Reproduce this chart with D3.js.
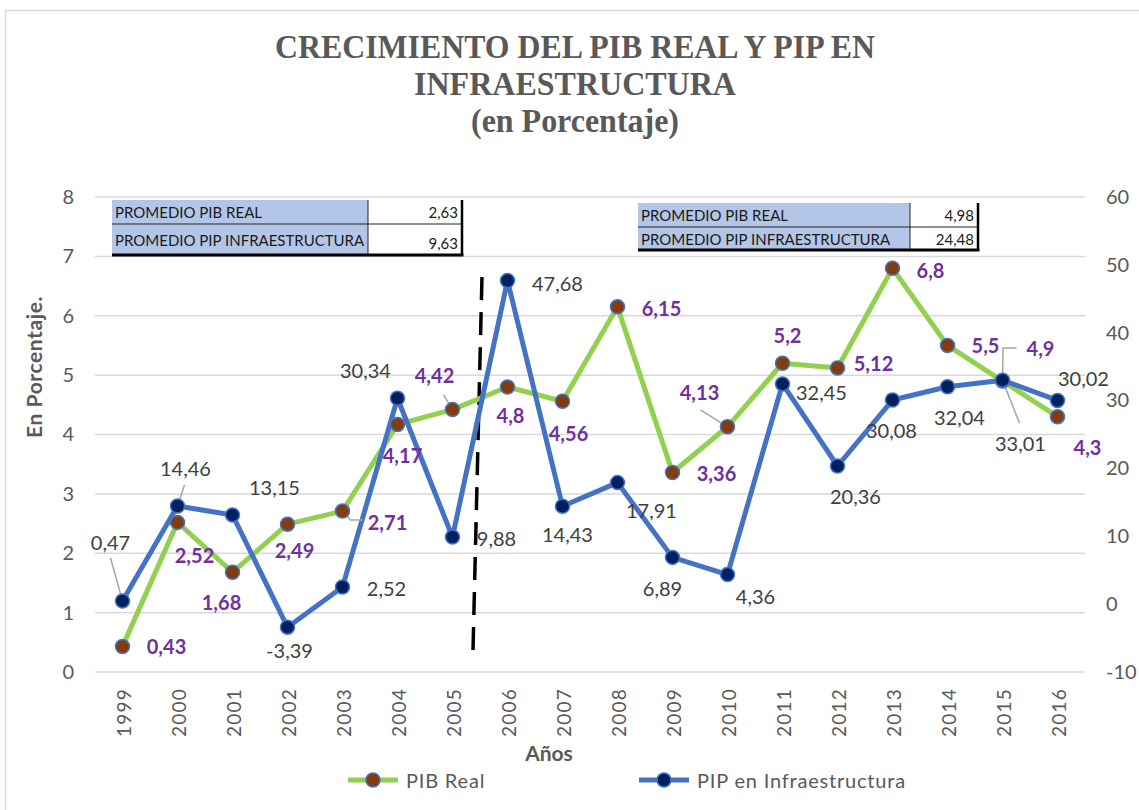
<!DOCTYPE html>
<html>
<head>
<meta charset="utf-8">
<script src="https://cdn.jsdelivr.net/npm/d3@7/dist/d3.min.js"></script>
<style>
  html, body { margin: 0; padding: 0; background: #ffffff; }
  svg { display: block; }
</style>
</head>
<body>
<svg id="chart" width="1139" height="810"></svg>
<script>
// ---------------- DATA ----------------
const years = ["1999","2000","2001","2002","2003","2004","2005","2006","2007","2008","2009","2010","2011","2012","2013","2014","2015","2016"];
const pibReal = [0.43,2.52,1.68,2.49,2.71,4.17,4.42,4.8,4.56,6.15,3.36,4.13,5.2,5.12,6.8,5.5,4.9,4.3];
const pipInfra = [0.47,14.46,13.15,-3.39,2.52,30.34,9.88,47.68,14.43,17.91,6.89,4.36,32.45,20.36,30.08,32.04,33.01,30.02];
const leftTicks = [0,1,2,3,4,5,6,7,8];
const rightTicks = [-10,0,10,20,30,40,50,60];
const tableLabels = ["PROMEDIO PIB REAL","PROMEDIO PIP INFRAESTRUCTURA"];
const table1Values = ["2,63","9,63"];
const table2Values = ["4,98","24,48"];
const titleLines = ["CRECIMIENTO DEL PIB REAL Y PIP EN","INFRAESTRUCTURA","(en Porcentaje)"];

// ---------------- LAYOUT (label placement, not data) ----------------
// [dx, dy] offsets of label centre from marker; optional leader polyline
const pibLabelPos = [
  [44,0],[17,33,[[12,11]]],[-11,30],[7,26],[45,11,[[8,9],[20,9]]],[5,31],[-18,-35,[[-9,-15]]],[3,28],[6,32],
  [44,1],[44,0],[-28,-35,[[-27,-17]]],[5,-28],[36,-5],[38,2],[38,0],[38,-33,[[0.5,-33],[14,-33]]],[30,30]
];
const pipLabelPos = [
  [-12,-59,[[-12,-43]]],[8,-38,[[7,-21]]],[42,-28],[2,23],[44,1],[-32,-28],[44,1],[50,2],[5,28],
  [34,27],[-10,31],[28,21],[39,8],[18,30],[-1,30],[12,30],[18,63,[[17,43]]],[26,-22]
];

const svg = d3.select("#chart");
const W = 1139, H = 810;
const plot = { left: 95, right: 1085, top: 197, bottom: 672 };

const sans = "Lato, 'Open Sans', sans-serif";
const gray = "#595959";

// border
svg.append("rect").attr("x", 5.5).attr("y", 10.5).attr("width", W + 20).attr("height", H + 20)
  .attr("fill", "#fff").attr("stroke", "#d9d9d9").attr("stroke-width", 1.5);

// scales
const x = d3.scaleBand().domain(years).range([plot.left, plot.right]).padding(0);
const cx = d => x(d) + x.bandwidth() / 2;
const yL = d3.scaleLinear().domain([0, 8]).range([plot.bottom, plot.top]);
const yR = d3.scaleLinear().domain([-10, 60]).range([plot.bottom, plot.top]);

// title
const titleBase = [58, 95, 132];
const titleLen = [600, 322, 208];
titleLines.forEach((t, i) => {
  svg.append("text").attr("x", 575).attr("y", titleBase[i])
    .attr("text-anchor", "middle")
    .attr("font-family", "'Liberation Serif', 'Times New Roman', serif")
    .attr("font-weight", "bold").attr("font-size", 34).attr("fill", gray)
    .attr("textLength", titleLen[i]).attr("lengthAdjust", "spacingAndGlyphs")
    .text(t);
});

// gridlines (primary axis)
svg.append("g").selectAll("line").data(leftTicks).join("line")
  .attr("x1", plot.left).attr("x2", plot.right)
  .attr("y1", d => yL(d)).attr("y2", d => yL(d))
  .attr("stroke", "#d9d9d9").attr("stroke-width", 1.5);

// left axis
const axL = svg.append("g").attr("transform", `translate(${plot.left},0)`)
  .call(d3.axisLeft(yL).tickValues(leftTicks).tickSize(0).tickPadding(21).tickFormat(d3.format("d")));
axL.select(".domain").remove();
axL.selectAll("text").attr("font-family", sans).attr("font-size", 20).attr("fill", gray);

// right axis
const axR = svg.append("g").attr("transform", `translate(${plot.right},0)`)
  .call(d3.axisRight(yR).tickValues(rightTicks).tickSize(0).tickPadding(21).tickFormat(d => d3.format("d")(d).replace("−","-")));
axR.select(".domain").remove();
axR.selectAll("text").attr("font-family", sans).attr("font-size", 20).attr("fill", gray);

// x axis labels (rotated)
const axX = svg.append("g").attr("transform", `translate(0,${plot.bottom})`)
  .call(d3.axisBottom(x).tickSize(0).tickPadding(0));
axX.select(".domain").remove();
axX.selectAll("text")
  .attr("font-family", sans).attr("font-size", 19).attr("fill", gray)
  .attr("letter-spacing", 1.2)
  .attr("text-anchor", "end")
  .attr("dy", null).attr("y", 0)
  .attr("transform", "translate(1,16) rotate(-90)")
  .attr("dominant-baseline", "central");

// axis titles
svg.append("text").attr("transform", `translate(33,367) rotate(-90)`)
  .attr("text-anchor", "middle").attr("dominant-baseline", "central")
  .attr("font-family", sans).attr("font-weight", "bold").attr("font-size", 21).attr("fill", gray)
  .attr("letter-spacing", 0.6)
  .text("En Porcentaje.");
svg.append("text").attr("x", 549).attr("y", 752)
  .attr("text-anchor", "middle").attr("dominant-baseline", "central")
  .attr("font-family", sans).attr("font-weight", "bold").attr("font-size", 21).attr("fill", gray)
  .text("Años");

// tables
function drawTable(x0, xDiv, x1, yTop, yMid, yBot, values, valDy) {
  const g = svg.append("g");
  g.append("rect").attr("x", x0).attr("y", yTop).attr("width", xDiv - x0).attr("height", yBot - yTop).attr("fill", "#b4c6e7");
  g.append("rect").attr("x", xDiv).attr("y", yTop).attr("width", x1 - xDiv).attr("height", yBot - yTop).attr("fill", "#ffffff");
  g.append("line").attr("x1", x0).attr("x2", x1).attr("y1", yMid).attr("y2", yMid).attr("stroke", "#222").attr("stroke-width", 1);
  g.append("line").attr("x1", xDiv).attr("x2", xDiv).attr("y1", yTop).attr("y2", yBot).attr("stroke", "#222").attr("stroke-width", 1);
  g.append("line").attr("x1", x0).attr("x2", x1 + 1.5).attr("y1", yBot).attr("y2", yBot).attr("stroke", "#000").attr("stroke-width", 3);
  g.append("line").attr("x1", x1).attr("x2", x1).attr("y1", yTop).attr("y2", yBot).attr("stroke", "#000").attr("stroke-width", 2.5);
  const rows = [[yTop, yMid], [yMid, yBot]];
  tableLabels.forEach((lab, i) => {
    const yc = (rows[i][0] + rows[i][1]) / 2;
    g.append("text").attr("x", x0 + 3).attr("y", yc).attr("dominant-baseline", "central")
      .attr("font-family", sans).attr("font-size", 15).attr("fill", "#1a1a1a").text(lab);
    g.append("text").attr("x", x1 - 4).attr("y", yc + valDy[i]).attr("dominant-baseline", "central")
      .attr("text-anchor", "end")
      .attr("font-family", sans).attr("font-size", 15).attr("fill", "#1a1a1a").text(values[i]);
  });
}
drawTable(112, 368, 462, 200, 224, 255, table1Values, [0, 3]);
drawTable(638, 910, 978, 203, 227, 250, table2Values, [0, 0]);

// dashed separator (between 2005 and 2006)
svg.append("line")
  .attr("x1", cx("2005") + 0.536 * x.step()).attr("y1", yL(6.65))
  .attr("x2", cx("2005") + 0.373 * x.step()).attr("y2", yL(0.37))
  .attr("stroke", "#000").attr("stroke-width", 3.5).attr("stroke-dasharray", "23,12");

// lines
const pibPts = years.map((yr, i) => [cx(yr), yL(pibReal[i])]);
const pipPts = years.map((yr, i) => [cx(yr), yR(pipInfra[i])]);
const lineGen = d3.line();
svg.append("path").attr("d", lineGen(pibPts)).attr("fill", "none")
  .attr("stroke", "#92d050").attr("stroke-width", 5).attr("stroke-linejoin", "round");
svg.append("path").attr("d", lineGen(pipPts)).attr("fill", "none")
  .attr("stroke", "#4472c4").attr("stroke-width", 5).attr("stroke-linejoin", "round");

// leader lines
function leaders(pts, pos) {
  pos.forEach((p, i) => {
    if (p[2]) {
      const path = [[pts[i][0], pts[i][1]]].concat(p[2].map(q => [pts[i][0] + q[0], pts[i][1] + q[1]]));
      svg.append("path").attr("d", d3.line()(path)).attr("fill", "none")
        .attr("stroke", "#a6a6a6").attr("stroke-width", 1.5);
    }
  });
}
leaders(pibPts, pibLabelPos);
leaders(pipPts, pipLabelPos);

// markers
svg.append("g").selectAll("circle").data(pibPts).join("circle")
  .attr("cx", d => d[0]).attr("cy", d => d[1]).attr("r", 7)
  .attr("fill", "#843c0c").attr("stroke", "#4472c4").attr("stroke-width", 1.5);
svg.append("g").selectAll("circle").data(pipPts).join("circle")
  .attr("cx", d => d[0]).attr("cy", d => d[1]).attr("r", 7)
  .attr("fill", "#002060").attr("stroke", "#4472c4").attr("stroke-width", 1.5);

// data labels
const fmt = v => String(v).replace(".", ",");
svg.append("g").selectAll("text").data(pibReal).join("text")
  .attr("x", (d, i) => pibPts[i][0] + pibLabelPos[i][0])
  .attr("y", (d, i) => pibPts[i][1] + pibLabelPos[i][1])
  .attr("text-anchor", "middle").attr("dominant-baseline", "central")
  .attr("font-family", sans).attr("font-weight", "bold").attr("font-size", 20).attr("fill", "#7030a0")
  .text(d => fmt(d));
svg.append("g").selectAll("text").data(pipInfra).join("text")
  .attr("x", (d, i) => pipPts[i][0] + pipLabelPos[i][0])
  .attr("y", (d, i) => pipPts[i][1] + pipLabelPos[i][1])
  .attr("text-anchor", "middle").attr("dominant-baseline", "central")
  .attr("font-family", sans).attr("font-size", 20).attr("fill", "#404040")
  .text(d => fmt(d));

// legend
const legend = [
  { name: "PIB Real", stroke: "#92d050", fill: "#843c0c", x: 348 },
  { name: "PIP en Infraestructura", stroke: "#4472c4", fill: "#002060", x: 639 }
];
const ly = 780;
legend.forEach(l => {
  svg.append("line").attr("x1", l.x).attr("x2", l.x + 50).attr("y1", ly).attr("y2", ly)
    .attr("stroke", l.stroke).attr("stroke-width", 5);
  svg.append("circle").attr("cx", l.x + 25).attr("cy", ly).attr("r", 7)
    .attr("fill", l.fill).attr("stroke", "#4472c4").attr("stroke-width", 1.5);
  svg.append("text").attr("x", l.x + 58).attr("y", ly).attr("dominant-baseline", "central")
    .attr("font-family", sans).attr("font-size", 20).attr("letter-spacing", 0.8).attr("fill", gray).text(l.name);
});
</script>
</body>
</html>
